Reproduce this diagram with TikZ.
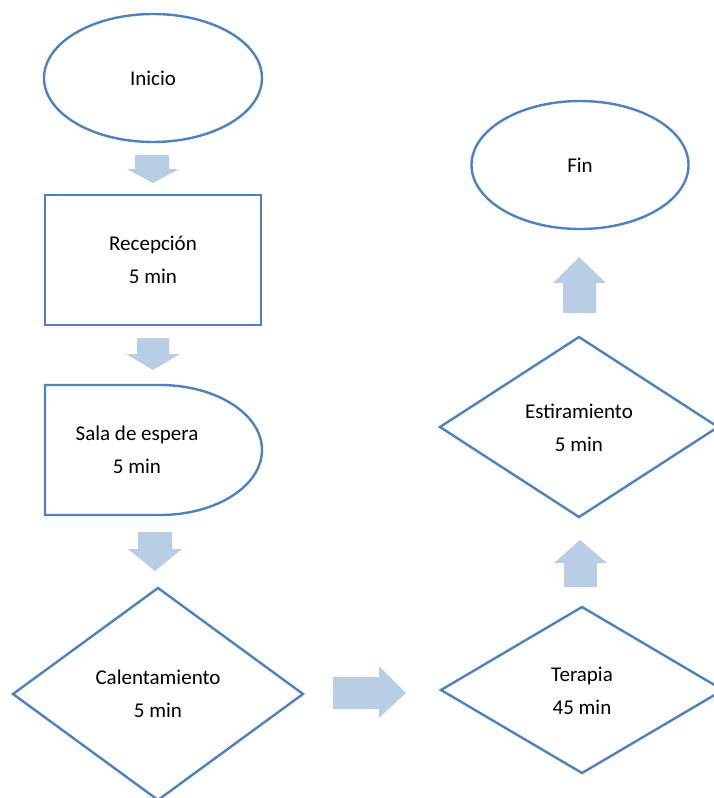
\documentclass[tikz,border=0pt]{standalone}
\usepackage{fontspec}
\setmainfont{Carlito}
\usetikzlibrary{shapes.geometric}
\definecolor{edgeblue}{RGB}{79,129,189}
\definecolor{arrowfill}{RGB}{185,205,229}
\tikzset{
  outline/.style={draw=edgeblue, line width=2.4pt, fill=white},
  blockarrow/.style={fill=arrowfill, draw=none},
  label/.style={font=\fontsize{21}{33}\selectfont, align=center, inner sep=0pt},
}
\begin{document}
\begin{tikzpicture}[x=1pt, y=-1pt]
  \useasboundingbox (0,0) rectangle (714,798);

  % start and end terminals
  \node[outline, ellipse, minimum width=218pt, minimum height=128pt] (inicio) at (153,78) {};
  \node[outline, ellipse, minimum width=217pt, minimum height=128pt] (fin) at (580,165) {};

  % reception box
  \node[outline, rectangle, minimum width=216pt, minimum height=130pt] (recepcion) at (153,260) {};

  % waiting room (delay shape)
  \draw[outline] (45,385) -- (160,385) arc[start angle=-90, end angle=90, x radius=102, y radius=65] -- (45,515) -- cycle;
  \coordinate (espera) at (153,450);

  % decision-style diamonds
  \draw[outline] (158,588) -- (303,694) -- (158,800) -- (13,694) -- cycle;
  \coordinate (calent) at (158,694);
  \draw[outline] (582,607) -- (723,690) -- (582,773) -- (441,690) -- cycle;
  \coordinate (terapia) at (582,690);
  \draw[outline] (579,337) -- (718,427) -- (579,517) -- (440,427) -- cycle;
  \coordinate (estira) at (579,427);

  % labels
  \node[label] at (inicio) {Inicio};
  \node[label] at (fin) {Fin};
  \node[label] (trecep) at (153,259.5) {Recepción\\5 min};
  \node[label] (tesp) at (137,449.5) {Sala de espera\\5 min};
  \node[label] (tcal) at (158,693.5) {Calentamiento\\5 min};
  \node[label] (tter) at (582,690.5) {Terapia\\45 min};
  \node[label] (test) at (579,428) {Estiramiento\\5 min};

  % block arrows between steps
  \fill[blockarrow] (135,155) -- (169,155) -- (169,169) -- (179,169) -- (153,183) -- (127,169) -- (135,169) -- cycle;
  \fill[blockarrow] (137,338) -- (169,338) -- (169,354) -- (180,354) -- (153,370) -- (126,354) -- (137,354) -- cycle;
  \fill[blockarrow] (138,532) -- (172,532) -- (172,549) -- (182,549) -- (155,571) -- (128,549) -- (138,549) -- cycle;
  \fill[blockarrow] (333,677) -- (379,677) -- (379,666) -- (406,693) -- (379,718) -- (379,709) -- (333,709) -- cycle;
  \fill[blockarrow] (564,587) -- (597,587) -- (597,563) -- (607,563) -- (580,540) -- (554,563) -- (564,563) -- cycle;
  \fill[blockarrow] (563,313) -- (596,313) -- (596,283) -- (606,283) -- (579,257) -- (553,283) -- (563,283) -- cycle;
\end{tikzpicture}
\end{document}
